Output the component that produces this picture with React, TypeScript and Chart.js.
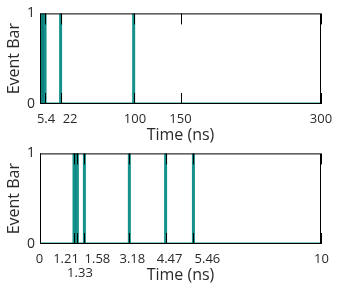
import React, { useEffect, useRef } from "react";
import { Chart, registerables } from "chart.js";

Chart.register(...registerables);

// ---- data ----
const topIntervals: number[][] = [[0, 5.4]];
const topEvents: number[] = [22, 100];
const topMax = 300;
const topTickValues: number[] = [5.4, 22, 100, 150, 300];
const topTickLabels: string[] = ["5.4", "22", "100", "150", "300"];

const botIntervals: number[][] = [[1.21, 1.33]];
const botEvents: number[] = [1.58, 3.18, 4.47, 5.46];
const botMax = 10;
const botTickValues: number[] = [0, 1.21, 1.33, 1.58, 3.18, 4.47, 5.46, 10];
const botTickLabels: string[] = ["0", "1.21", "1.33", "1.58", "3.18", "4.47", "5.46", "10"];

// ---- label layout (nudges in px, row index) ----
const topLabelNudge = [1, 9.5, 1.3, 0, 0];
const topLabelRow = [0, 0, 0, 0, 0];
const botLabelNudge = [-0.5, -8, 2.6, 13, 3, 4, 14, 0.5];
const botLabelRow = [0, 0, 1, 0, 0, 0, 0, 0];

const TEAL_FILL = "#0f7d77";
const TEAL_LINE = "#14918b";
const INK = "#2a2a2a";
const FONT = '"Open Sans", "Liberation Sans", sans-serif';

function signal(intervals: number[][], events: number[], max: number) {
  const marks = [...intervals.map((p) => [p[0], p[1]]), ...events.map((e) => [e, e])].sort(
    (a, b) => a[0] - b[0]
  );
  const pts: { x: number; y: number | null }[] = [{ x: 0, y: 0 }];
  marks.forEach(([a, b]) => {
    pts.push({ x: a, y: 0 }, { x: a, y: 1 }, { x: b, y: 1 }, { x: b, y: 0 });
  });
  pts.push({ x: max, y: 0 });
  return pts;
}

function edges(intervals: number[][], events: number[]) {
  const vals = [...intervals.flat(), ...events];
  const pts: { x: number; y: number | null }[] = [];
  vals.forEach((v) => {
    pts.push({ x: v, y: 0 }, { x: v, y: 1 }, { x: v, y: null });
  });
  return pts;
}

function makePlugin(values: number[], labels: string[], nudge: number[], rows: number[]) {
  return {
    id: "frameAndLabels",
    afterDatasetsDraw(chart: any) {
      const { ctx, chartArea } = chart;
      const x = chart.scales.x;
      const { left, right, top, bottom } = chartArea;
      ctx.save();
      ctx.strokeStyle = "#000";
      ctx.lineWidth = 1;
      ctx.strokeRect(left + 0.5, top + 0.5, right - left - 1, bottom - top - 1);
      ctx.beginPath();
      values.forEach((v) => {
        const px = Math.round(x.getPixelForValue(v)) + 0.5;
        ctx.moveTo(px, top);
        ctx.lineTo(px, top + 11);
        ctx.moveTo(px, bottom);
        ctx.lineTo(px, bottom - 11);
      });
      ctx.stroke();
      ctx.restore();
    },
    afterDraw(chart: any) {
      const { ctx, chartArea } = chart;
      const x = chart.scales.x;
      ctx.save();
      ctx.font = `13px ${FONT}`;
      ctx.fillStyle = INK;
      ctx.textAlign = "center";
      ctx.textBaseline = "alphabetic";
      values.forEach((v, i) => {
        const px = x.getPixelForValue(v) + nudge[i];
        const py = chartArea.bottom + 19 + rows[i] * 14;
        ctx.fillText(labels[i], px, py);
      });
      ctx.restore();
    },
  };
}

function EventChart(props: {
  intervals: number[][];
  events: number[];
  max: number;
  tickValues: number[];
  tickLabels: string[];
  nudge: number[];
  rows: number[];
  padTop: number;
  height: number;
  titlePad: number;
  top: number;
}) {
  const ref = useRef<HTMLCanvasElement | null>(null);
  useEffect(() => {
    if (!ref.current) return;
    const chart = new Chart(ref.current, {
      type: "scatter",
      data: {
        datasets: [
          {
            data: signal(props.intervals, props.events, props.max),
            showLine: true,
            borderColor: TEAL_LINE,
            backgroundColor: TEAL_FILL,
            borderWidth: 3,
            pointRadius: 0,
            fill: "origin",
          } as any,
          {
            data: edges(props.intervals, props.events),
            showLine: true,
            borderColor: "#000",
            borderWidth: 1,
            pointRadius: 0,
            spanGaps: false,
          } as any,
        ],
      },
      options: {
        animation: false,
        responsive: false,
        events: [],
        layout: { padding: { top: props.padTop, right: 17, left: 0, bottom: 0 } },
        plugins: { legend: { display: false }, tooltip: { enabled: false } },
        scales: {
          x: {
            type: "linear",
            min: 0,
            max: props.max,
            grid: { display: false },
            border: { display: false },
            ticks: { display: false },
            title: {
              display: true,
              text: "Time (ns)",
              color: INK,
              font: { family: FONT, size: 16 },
              padding: { top: 0, bottom: props.titlePad },
            },
            afterFit: (s: any) => {
              s.height = props.height - 104;
            },
          },
          y: {
            min: 0,
            max: 1,
            grid: { display: false, drawTicks: false },
            border: { display: false },
            ticks: {
              stepSize: 1,
              padding: 5,
              color: INK,
              font: { family: FONT, size: 14 },
            },
            title: {
              display: true,
              text: "Event Bar",
              color: INK,
              font: { family: FONT, size: 16 },
              padding: { top: 5, bottom: 0 },
            },
            afterFit: (s: any) => {
              s.width = 40;
            },
          },
        },
      },
      plugins: [makePlugin(props.tickValues, props.tickLabels, props.nudge, props.rows)],
    });
    return () => chart.destroy();
  }, []);
  return (
    <canvas
      ref={ref}
      width={338}
      height={props.height}
      style={{ position: "absolute", left: 0, top: props.top, width: 338, height: props.height }}
    />
  );
}

export default function App() {
  return (
    <div style={{ position: "absolute", left: 0, top: 0, width: 338, height: 290, background: "#fff" }}>
      <EventChart
        intervals={topIntervals}
        events={topEvents}
        max={topMax}
        tickValues={topTickValues}
        tickLabels={topTickLabels}
        nudge={topLabelNudge}
        rows={topLabelRow}
        padTop={11}
        height={145}
        titlePad={0}
        top={0}
      />
      <EventChart
        intervals={botIntervals}
        events={botEvents}
        max={botMax}
        tickValues={botTickValues}
        tickLabels={botTickLabels}
        nudge={botLabelNudge}
        rows={botLabelRow}
        padTop={10}
        height={150}
        titlePad={5}
        top={140}
      />
    </div>
  );
}
